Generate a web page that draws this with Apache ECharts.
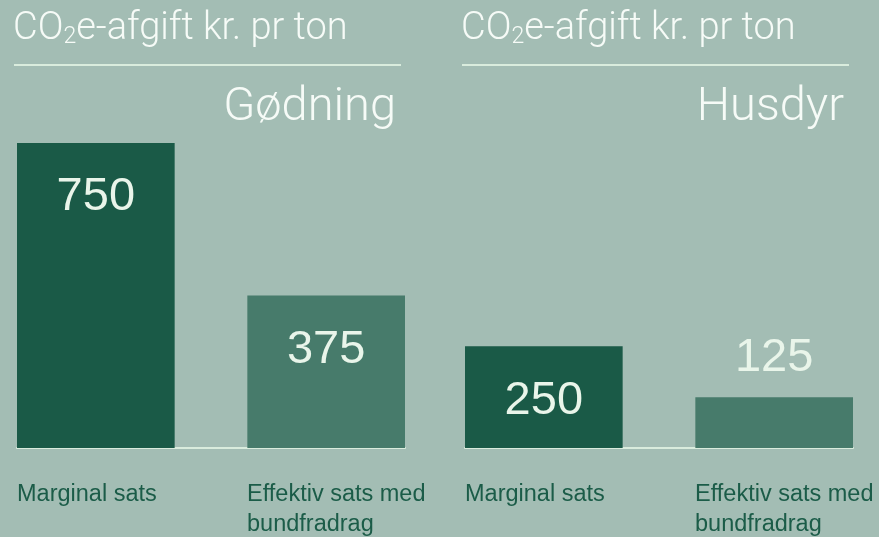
<!DOCTYPE html>
<html>
<head>
<meta charset="utf-8">
<script src="https://cdn.jsdelivr.net/npm/echarts@6/dist/echarts.min.js"></script>
<style>
  html, body { margin: 0; padding: 0; background: #a3bdb4; }
  #chart { width: 879px; height: 537px; }
</style>
</head>
<body>
<div id="chart"></div>
<script>
// data
const panelNames = ['Gødning', 'Husdyr'];
const headline = 'CO{sub|2}e-afgift kr. pr ton';
const categories = ['Marginal sats', 'Effektiv sats med\nbundfradrag'];
const goedningValues = [750, 375];
const husdyrValues = [250, 125];
const panelValues = [goedningValues, husdyrValues];

const colors = ['#1a5a47', '#477b6b'];
const lightText = '#e9f5ea';
const lineColor = '#d9ecdd';
const thinFont = 'Roboto';

const gridLefts = [17, 465];
const gridWidth = 388;

let chart = echarts.init(document.getElementById('chart'), null, { renderer: 'canvas' });

// one rich-text label under each pair of bars, split in two columns
function categoryLabel() {
  let first = categories[0].split('\n');
  let second = categories[1].split('\n');
  let rows = Math.max(first.length, second.length);
  let lines = [];
  for (let i = 0; i < rows; i++) {
    lines.push('{a|' + (first[i] || ' ') + '}{b|' + (second[i] || ' ') + '}');
  }
  return lines.join('\n');
}

let grids = [], xAxes = [], yAxes = [], series = [], titles = [], graphics = [];

for (let p = 0; p < panelNames.length; p++) {
  grids.push({ left: gridLefts[p], width: gridWidth, top: 143, bottom: 88 });
  xAxes.push({
    type: 'category',
    gridIndex: p,
    data: [panelNames[p]],
    axisTick: { show: false },
    axisLine: { show: true, lineStyle: { color: lineColor, width: 2 } },
    axisLabel: {
      margin: 32,
      formatter: categoryLabel,
      rich: {
        a: { width: 230, align: 'left', fontSize: 23.5, lineHeight: 30, color: '#1b5c48', fontFamily: 'Liberation Sans' },
        b: { width: 158, align: 'left', fontSize: 23.5, lineHeight: 30, color: '#1b5c48', fontFamily: 'Liberation Sans' },
      },
    },
  });
  yAxes.push({
    type: 'value',
    gridIndex: p,
    min: 0,
    max: 750,
    show: false,
    splitLine: { show: false },
  });
  for (let s = 0; s < categories.length; s++) {
    let v = panelValues[p][s];
    let small = v < 200;
    series.push({
      type: 'bar',
      name: categories[s],
      xAxisIndex: p,
      yAxisIndex: p,
      barWidth: 158,
      barGap: '46%',
      itemStyle: { color: colors[s] },
      label: {
        show: true,
        position: small ? 'top' : 'insideTop',
        distance: small ? 16 : 31,
        color: lightText,
        fontSize: 47,
        fontFamily: 'Liberation Sans',
      },
      data: [v],
    });
  }
  titles.push({
    text: headline,
    left: gridLefts[p] - 4,
    top: 9,
    padding: 0,
    textStyle: {
      color: '#f6fbf7',
      fontSize: 38,
      fontWeight: 300,
      fontFamily: thinFont,
      rich: {
        sub: { fontSize: 23, fontWeight: 300, fontFamily: thinFont, color: '#f6fbf7', padding: [17, 0, 0, 0] },
      },
    },
  });
  titles.push({
    text: panelNames[p],
    right: 879 - (gridLefts[p] + gridWidth - 9),
    top: 85,
    padding: 0,
    textStyle: { color: '#f6fbf7', fontSize: 47, fontWeight: 300, fontFamily: thinFont },
  });
  graphics.push({
    type: 'line',
    shape: { x1: gridLefts[p] - 3, y1: 65, x2: gridLefts[p] + gridWidth - 4, y2: 65 },
    style: { stroke: lineColor, lineWidth: 2 },
  });
}

chart.setOption({
  backgroundColor: '#a3bdb4',
  animation: false,
  title: titles,
  grid: grids,
  xAxis: xAxes,
  yAxis: yAxes,
  series: series,
  graphic: graphics,
});
</script>
</body>
</html>
